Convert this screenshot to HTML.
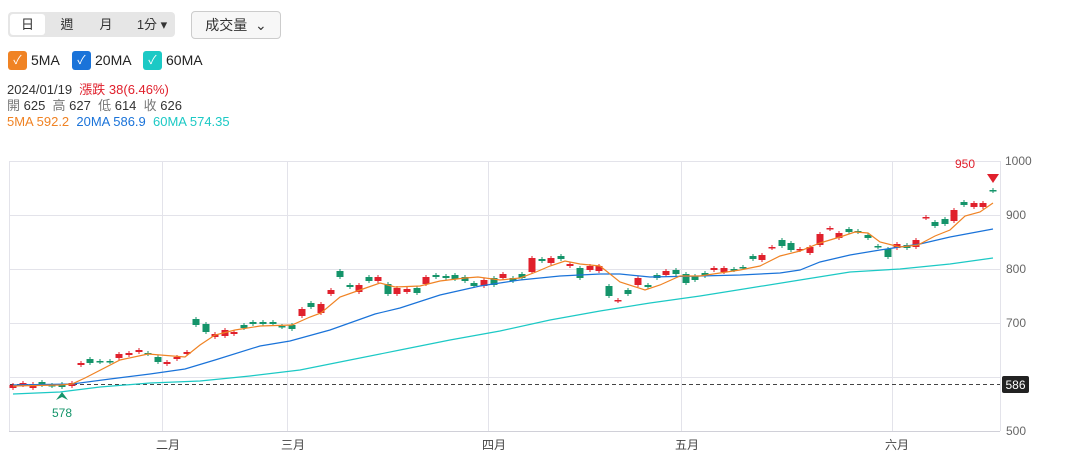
<!DOCTYPE html>
<html><head><meta charset="utf-8"><style>
body{margin:0;width:1066px;height:460px;background:#fff;font-family:"Liberation Sans","Noto Sans CJK TC",sans-serif;position:relative;overflow:hidden;color:#333}
.a{position:absolute;white-space:nowrap}
.seg{left:8px;top:12px;width:167px;height:25px;background:#e6e6e6;border-radius:4px}
.tab{top:14px;font-size:13px;line-height:21px;text-align:center}
.cb{top:51px;width:19px;height:19px;border-radius:3px;color:#fff;font-size:12px;line-height:19px;text-align:center}
.lg{top:52px;font-size:14px;color:#222}
.info{font-size:13px;line-height:16px;left:7px}
</style></head><body>
<div class="a seg"></div>
<div class="a tab" style="left:10px;width:35px;height:21px;background:#fff;border-radius:3px">日</div>
<div class="a tab" style="left:55px;width:24px">週</div>
<div class="a tab" style="left:94px;width:24px">月</div>
<div class="a tab" style="left:134px;width:36px">1分 ▾</div>
<div class="a" style="left:191px;top:11px;width:88px;height:26px;border:1px solid #ccc;border-radius:4px;background:#f7f7f7;font-size:14px;line-height:26px;text-align:center;color:#333">成交量 &nbsp;⌄</div>
<div class="a cb" style="left:8px;background:#f08324">✓</div><div class="a lg" style="left:31px">5MA</div>
<div class="a cb" style="left:72px;background:#1a73d9">✓</div><div class="a lg" style="left:95px">20MA</div>
<div class="a cb" style="left:143px;background:#1cc9c5">✓</div><div class="a lg" style="left:166px">60MA</div>
<div class="a info" style="top:82px">2024/01/19 &nbsp;<span style="color:#e0202c">漲跌 38(6.46%)</span></div>
<div class="a info" style="top:98px"><span style="color:#777">開</span> 625 &nbsp;<span style="color:#777">高</span> 627 &nbsp;<span style="color:#777">低</span> 614 &nbsp;<span style="color:#777">收</span> 626</div>
<div class="a info" style="top:114px"><span style="color:#f08324">5MA 592.2</span> &nbsp;<span style="color:#1a73d9">20MA 586.9</span> &nbsp;<span style="color:#1cc9c5">60MA 574.35</span></div>
<svg class="a" style="left:0;top:0" width="1066" height="460" id="s">
<g stroke="#e3e3ea" stroke-width="1">
<line x1="10" y1="161.5" x2="1000" y2="161.5"/><line x1="10" y1="215.5" x2="1000" y2="215.5"/><line x1="10" y1="269.5" x2="1000" y2="269.5"/><line x1="10" y1="323.5" x2="1000" y2="323.5"/><line x1="10" y1="377.5" x2="1000" y2="377.5"/>
<line x1="162.5" y1="161" x2="162.5" y2="431"/><line x1="287.5" y1="161" x2="287.5" y2="431"/><line x1="488.5" y1="161" x2="488.5" y2="431"/><line x1="681.5" y1="161" x2="681.5" y2="431"/><line x1="892.5" y1="161" x2="892.5" y2="431"/>
<line x1="9.5" y1="161" x2="9.5" y2="431"/><line x1="1000.5" y1="161" x2="1000.5" y2="431"/>
</g>
<line x1="9" y1="431.5" x2="1000" y2="431.5" stroke="#d0d0d8"/>
<line x1="10" y1="384.5" x2="1000" y2="384.5" stroke="#444" stroke-dasharray="4,3"/>
<g id="c"></g>
<polyline fill="none" stroke="#1cc9c5" stroke-width="1.2" points="13,394 60,392 100,387 150,383 200,381 250,376 300,370 350,360 400,350 450,340 500,331 550,320 600,311 650,303 700,296 750,288 800,280 850,272 900,269 950,264 993,258"/>
<polyline fill="none" stroke="#1a73d9" stroke-width="1.2" points="13,385 72,384 110,379 150,374 185,369 215,360 260,346 290,341 330,330 375,314 400,308 440,295 480,286 520,280 560,276 600,274 620,274 650,277 700,276 740,275 780,273 800,270 820,262 850,255 880,250 900,247 920,244 950,237 993,229"/>
<polyline fill="none" stroke="#f08324" stroke-width="1.2" points="13,386 60,385 72,384 85,378 120,360 148,354 185,357 200,345 215,335 235,330 260,326 292,325 310,317 321,313 340,297 360,290 380,283 395,287 420,286 440,281 465,278 478,277 500,280 520,278 536,272 550,266 565,261 580,264 600,266 620,282 645,290 660,285 680,276 700,276 720,273 740,270 760,266 780,256 800,251 820,243 840,237 855,232 868,233 880,242 900,247 918,245 935,236 950,230 965,216 980,212 993,203"/>
<polygon points="56,400 62,392 68,400 62,397" fill="#14946a"/>
<text x="62" y="417" font-size="12" fill="#14946a" text-anchor="middle" font-family="Liberation Sans">578</text>
<polygon points="987,174 999,174 993,183" fill="#e0202c"/>
<text x="965" y="168" font-size="12" fill="#e0202c" text-anchor="middle" font-family="Liberation Sans">950</text>
<g font-size="12" fill="#666" font-family="Liberation Sans">
<text x="1005" y="165">1000</text><text x="1006" y="219">900</text><text x="1006" y="273">800</text><text x="1006" y="327">700</text><text x="1006" y="435">500</text>
</g>
<rect x="1002" y="376" width="27" height="17" rx="2" fill="#222"/>
<text x="1015.5" y="389" font-size="12" fill="#fff" text-anchor="middle" font-family="Liberation Sans">586</text>
<g font-size="12" fill="#444" text-anchor="middle" font-family="Liberation Sans,Noto Sans CJK TC,sans-serif">
<text x="168" y="449">二月</text><text x="293" y="449">三月</text><text x="494" y="449">四月</text><text x="687" y="449">五月</text><text x="897" y="449">六月</text>
</g>
</svg>
<script>
var d=[[13,385,388,'r'],[23,383,385,'r'],[33,384,388,'r'],[42,382,385,'g'],[52,385,386,'g'],[62,384,387,'g'],[72,383,386,'r'],[81,363,365,'r'],[90,359,363,'g'],[100,361,362,'g'],[110,361,362,'g'],[119,354,358,'r'],[129,353,355,'r'],[139,350,352,'r'],[148,353,354,'g'],[158,357,362,'g'],[167,362,364,'r'],[177,357,359,'r'],[187,352,354,'r'],[196,319,325,'g'],[206,324,332,'g'],[215,334,337,'r'],[225,330,336,'r'],[234,332,334,'r'],[244,325,328,'g'],[253,322,324,'g'],[263,322,324,'g'],[273,322,324,'g'],[282,326,327,'g'],[292,325,329,'g'],[302,309,316,'r'],[311,303,307,'g'],[321,304,313,'r'],[331,290,294,'r'],[340,271,277,'g'],[350,285,287,'g'],[359,285,292,'r'],[369,277,281,'g'],[378,277,281,'r'],[388,284,294,'g'],[397,288,294,'r'],[407,289,292,'r'],[417,288,293,'g'],[426,277,284,'r'],[436,275,277,'g'],[446,276,278,'g'],[455,275,279,'g'],[465,277,281,'g'],[474,283,286,'g'],[484,280,286,'r'],[494,278,285,'g'],[503,274,278,'r'],[513,278,281,'g'],[522,274,278,'g'],[532,258,272,'r'],[542,259,261,'g'],[551,258,263,'r'],[561,256,259,'g'],[570,264,266,'r'],[580,268,278,'g'],[590,266,270,'r'],[599,266,271,'r'],[609,286,296,'g'],[618,300,301,'r'],[628,290,294,'g'],[638,278,285,'r'],[648,285,287,'g'],[657,275,278,'g'],[666,271,275,'r'],[676,270,274,'g'],[686,274,283,'g'],[695,276,280,'g'],[705,273,276,'g'],[714,268,270,'r'],[724,268,272,'r'],[734,269,270,'g'],[743,267,268,'g'],[753,256,259,'g'],[762,255,260,'r'],[772,247,248,'r'],[782,240,246,'g'],[791,243,250,'g'],[800,249,250,'r'],[810,247,253,'r'],[820,234,245,'r'],[830,228,229,'r'],[839,233,238,'r'],[849,229,232,'g'],[858,231,232,'g'],[868,235,238,'g'],[878,246,247,'g'],[888,249,257,'g'],[897,244,248,'r'],[907,245,248,'g'],[916,240,247,'r'],[926,217,218,'r'],[935,222,226,'g'],[945,219,224,'g'],[954,210,221,'r'],[964,202,205,'g'],[974,203,207,'r'],[983,203,207,'r'],[993,190,191,'g']];
var h='';d.forEach(function(c){var col=c[3]=='r'?'#e0202c':'#14946a';h+='<line x1="'+c[0]+'" x2="'+c[0]+'" y1="'+(c[1]-2)+'" y2="'+(c[2]+2)+'" stroke="'+col+'"/><rect x="'+(c[0]-3.5)+'" y="'+c[1]+'" width="7" height="'+Math.max(1.5,c[2]-c[1])+'" fill="'+col+'"/>';});
document.getElementById('c').innerHTML=h;
</script>
</body></html>
